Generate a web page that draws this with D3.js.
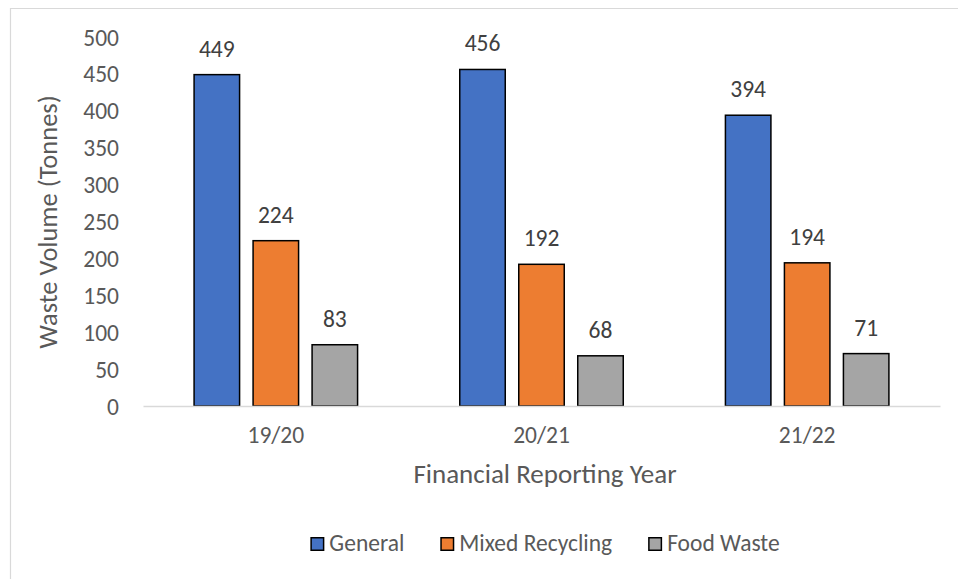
<!DOCTYPE html>
<html><head><meta charset="utf-8">
<script src="https://cdn.jsdelivr.net/npm/d3@7"></script>
<style>
html,body{margin:0;padding:0;background:#fff;}
text{font-family:Carlito, Lato, "Open Sans", sans-serif;}
</style></head>
<body>
<svg id="chart" width="958" height="579"></svg>
<script>
const categories = ["19/20", "20/21", "21/22"];
const seriesNames = ["General", "Mixed Recycling", "Food Waste"];
const general = [449, 456, 394];
const mixedRecycling = [224, 192, 194];
const foodWaste = [83, 68, 71];
const yTicks = [0, 50, 100, 150, 200, 250, 300, 350, 400, 450, 500];
const colors = ["#4472C4", "#ED7D31", "#A5A5A5"];

(function () {
const seriesValues = [general, mixedRecycling, foodWaste];
const svg = d3.select("#chart");
const FONT = "Carlito, Lato, sans-serif";
const SMALL = "23.5px";

svg.append("line").attr("x1", 10).attr("x2", 958).attr("y1", 8.5).attr("y2", 8.5).attr("stroke", "#d9d9d9").attr("stroke-width", 1.2);
svg.append("line").attr("x1", 10.5).attr("x2", 10.5).attr("y1", 8).attr("y2", 579).attr("stroke", "#d9d9d9").attr("stroke-width", 1.2);

const mLeft = 143, mRight = 940, mTop = 37, mBottom = 406;
const x = d3.scaleBand().domain(categories).range([mLeft, mRight]);
const y = d3.scaleLinear().domain([0, 500]).range([mBottom, mTop]);
const groupW = 165;
const xs = d3.scaleBand().domain(seriesNames).range([0, groupW]).paddingInner(12 / 59);

const yAxis = svg.append("g").attr("transform", `translate(119,0)`)
  .call(d3.axisLeft(y).tickValues(yTicks).tickSize(0).tickPadding(0));
yAxis.select(".domain").remove();
yAxis.selectAll("text").attr("fill", "#595959").style("font-size", SMALL)
  .attr("font-family", FONT).attr("text-anchor", "end").attr("dy", "0.34em");

categories.forEach((c, ci) => {
  const gx = x(c) + x.bandwidth() / 2 - groupW / 2;
  seriesNames.forEach((s, si) => {
    const v = seriesValues[si][ci];
    const bx = gx + xs(s);
    svg.append("rect")
      .attr("x", bx + 0.75).attr("y", y(v))
      .attr("width", xs.bandwidth() - 1.5).attr("height", y(0) - y(v))
      .attr("fill", colors[si]).attr("stroke", "#000").attr("stroke-width", 1.5);
    svg.append("text").attr("x", bx + xs.bandwidth() / 2).attr("y", y(v) - 18)
      .attr("text-anchor", "middle").attr("fill", "#404040").style("font-size", SMALL).text(v);
  });
});

const xAxis = svg.append("g").attr("transform", `translate(0,${mBottom})`)
  .call(d3.axisBottom(x).tickSize(0).tickPadding(0));
xAxis.select(".domain").attr("stroke", "#d9d9d9").attr("stroke-width", 1.5);
xAxis.selectAll("text").attr("fill", "#595959").style("font-size", SMALL)
  .attr("font-family", FONT).attr("y", 37).attr("dy", "0");

svg.append("text").attr("x", 545).attr("y", 483).attr("text-anchor", "middle")
  .attr("fill", "#595959").style("font-size", "27px").text("Financial Reporting Year");
svg.append("text").attr("transform", `translate(57,222) rotate(-90)`)
  .attr("text-anchor", "middle").attr("fill", "#595959").style("font-size", "26.5px").text("Waste Volume (Tonnes)");

// legend laid out centred, items separated by a fixed gap
const items = seriesNames.map((s, i) => {
  const g = svg.append("g");
  g.append("rect").attr("x", 0.75).attr("y", 0.75).attr("width", 12.5).attr("height", 12.5)
    .attr("fill", colors[i]).attr("stroke", "#000").attr("stroke-width", 1.5);
  const t = g.append("text").attr("x", 19).attr("y", 14).attr("fill", "#595959").style("font-size", SMALL).text(s);
  return { g, w: 19 + t.node().getComputedTextLength() };
});
const gap = 36;
const total = d3.sum(items, d => d.w) + gap * (items.length - 1);
let cx = 545 - total / 2;
items.forEach(it => { it.g.attr("transform", `translate(${cx},537)`); cx += it.w + gap; });
})();
</script>
</body></html>
